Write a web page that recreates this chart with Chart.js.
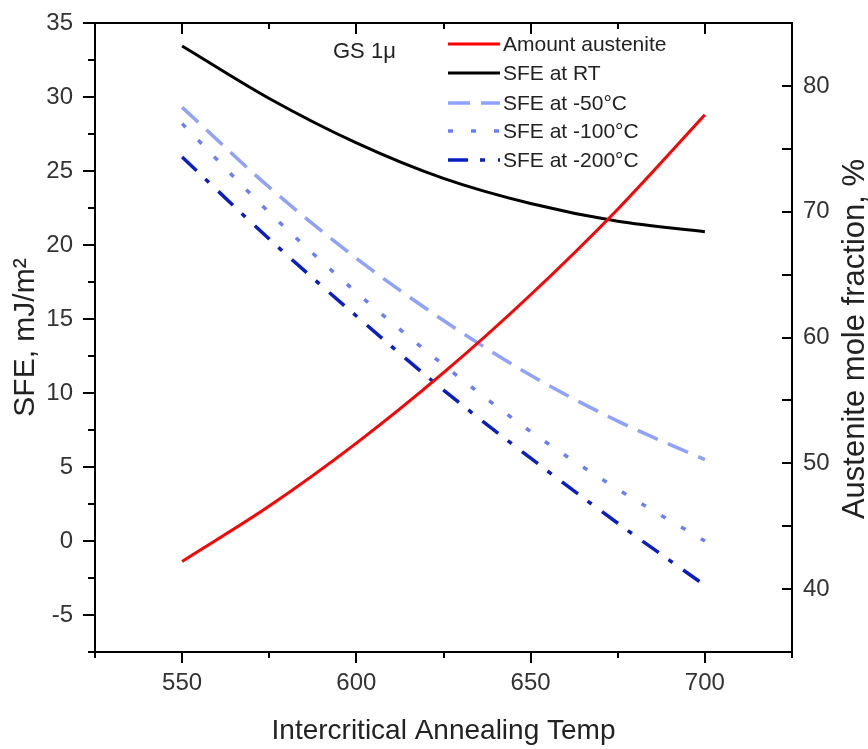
<!DOCTYPE html>
<html>
<head>
<meta charset="utf-8">
<script src="https://cdn.jsdelivr.net/npm/chart.js@4.4.1/dist/chart.umd.min.js"></script>
<style>
  html, body { margin: 0; padding: 0; background: #fff; }
  canvas { display: block; }
</style>
</head>
<body>
<canvas id="c" width="868" height="749"></canvas>
<script>
// ---- data ----
const temps = [550, 575, 600, 625, 650, 675, 700];
const austenite = [42.2, 46.6, 51.6, 57.2, 63.4, 70.2, 77.7];
const sfeRT = [33.45, 29.9, 26.9, 24.5, 22.8, 21.6, 20.9];
const sfeM50 = [29.3, 23.9, 19.1, 14.9, 11.2, 8.1, 5.5];
const sfeM100 = [28.2, 22.2, 16.8, 11.9, 7.4, 3.5, 0.0];
const sfeM200 = [25.95, 20.4, 15.2, 10.2, 5.6, 1.2, -3.0];

const xTicks = [550, 600, 650, 700];
const xMinor = [525, 575, 625, 675, 725];
const yTicks = [-5, 0, 5, 10, 15, 20, 25, 30, 35];
const yMinor = [-7.5, -2.5, 2.5, 7.5, 12.5, 17.5, 22.5, 27.5, 32.5];
const y1Ticks = [40, 50, 60, 70, 80];
const y1Minor = [35, 45, 55, 65, 75, 85];

const seriesLabels = ['Amount austenite', 'SFE at RT', 'SFE at -50°C', 'SFE at -100°C', 'SFE at -200°C'];
const annotationText = 'GS 1μ';
const xTitle = 'Intercritical Annealing Temp';
const yTitle = 'SFE, mJ/m²';
const y1Title = 'Austenite mole fraction, %';

const pts = arr => temps.map((t, i) => ({ x: t, y: arr[i] }));

const TEXT_FONT = '"Liberation Sans", Arial, sans-serif';

const decorPlugin = {
  id: 'decor',
  afterDraw(chart) {
    const { ctx, chartArea: a, scales } = chart;
    const sx = scales.x, sy = scales.y, sy1 = scales.y1;
    ctx.save();
    // frame
    ctx.strokeStyle = '#000';
    ctx.lineWidth = 2;
    ctx.setLineDash([]);
    ctx.strokeRect(a.left, a.top, a.right - a.left, a.bottom - a.top);
    ctx.beginPath();
    // x ticks: bottom outward, top inward
    xTicks.forEach(v => {
      const p = Math.round(sx.getPixelForValue(v));
      ctx.moveTo(p, a.bottom); ctx.lineTo(p, a.bottom + 11);
      ctx.moveTo(p, a.top); ctx.lineTo(p, a.top + 11);
    });
    xMinor.forEach(v => {
      const p = Math.round(sx.getPixelForValue(v));
      ctx.moveTo(p, a.bottom); ctx.lineTo(p, a.bottom + 6);
      ctx.moveTo(p, a.top); ctx.lineTo(p, a.top + 6);
    });
    // left ticks outward
    yTicks.forEach(v => {
      const p = Math.round(sy.getPixelForValue(v));
      ctx.moveTo(a.left, p); ctx.lineTo(a.left - 12, p);
    });
    yMinor.forEach(v => {
      const p = Math.round(sy.getPixelForValue(v));
      ctx.moveTo(a.left, p); ctx.lineTo(a.left - 7, p);
    });
    // right ticks inward
    y1Ticks.forEach(v => {
      const p = Math.round(sy1.getPixelForValue(v));
      ctx.moveTo(a.right, p); ctx.lineTo(a.right - 10, p);
    });
    y1Minor.forEach(v => {
      const p = Math.round(sy1.getPixelForValue(v));
      ctx.moveTo(a.right, p); ctx.lineTo(a.right - 10, p);
    });
    ctx.stroke();

    // right axis title (reads bottom-to-top)
    ctx.fillStyle = '#222';
    ctx.font = '31px ' + TEXT_FONT;
    ctx.textAlign = 'center';
    ctx.textBaseline = 'middle';
    ctx.save();
    ctx.translate(855, 339);
    ctx.rotate(-Math.PI / 2);
    ctx.fillText(y1Title, 0, 0);
    ctx.restore();

    // annotation
    ctx.font = '22px ' + TEXT_FONT;
    ctx.textAlign = 'left';
    ctx.fillText(annotationText, 333, 52);

    // legend
    const rowsY = [44, 73, 103, 131, 160];
    ctx.font = '21px ' + TEXT_FONT;
    chart.data.datasets.forEach((ds, i) => {
      const yy = rowsY[i];
      ctx.save();
      ctx.strokeStyle = ds.borderColor;
      ctx.lineWidth = ds.borderWidth;
      ctx.setLineDash(ds.borderDash || []);
      ctx.beginPath();
      ctx.moveTo(448, yy);
      ctx.lineTo(500, yy);
      ctx.stroke();
      ctx.restore();
      ctx.fillStyle = '#222';
      ctx.textAlign = 'left';
      ctx.textBaseline = 'middle';
      ctx.fillText(ds.label, 503, yy + 1);
    });
    ctx.restore();
  }
};

const tickFont = { family: TEXT_FONT, size: 24 };
const noVPad = (w) => s => { s.width = w; s.paddingTop = 0; s.paddingBottom = 0; };

new Chart(document.getElementById('c'), {
  type: 'line',
  data: {
    datasets: [
      { label: seriesLabels[0], data: pts(austenite), yAxisID: 'y1', borderColor: '#ff0000', borderWidth: 3 },
      { label: seriesLabels[1], data: pts(sfeRT), yAxisID: 'y', borderColor: '#000000', borderWidth: 3 },
      { label: seriesLabels[2], data: pts(sfeM50), yAxisID: 'y', borderColor: '#8fa2ff', borderWidth: 3.5, borderDash: [22, 11] },
      { label: seriesLabels[3], data: pts(sfeM100), yAxisID: 'y', borderColor: '#6a7eff', borderWidth: 3.5, borderDash: [5, 18] },
      { label: seriesLabels[4], data: pts(sfeM200), yAxisID: 'y', borderColor: '#0a1ec4', borderWidth: 3.5, borderDash: [20, 12, 5, 13] }
    ]
  },
  options: {
    responsive: false,
    animation: false,
    devicePixelRatio: 1,
    layout: { padding: { top: 23, left: 0, right: 0, bottom: 0 } },
    elements: {
      point: { radius: 0 },
      line: { cubicInterpolationMode: 'monotone', borderCapStyle: 'butt', fill: false }
    },
    plugins: { legend: { display: false }, tooltip: { enabled: false } },
    scales: {
      x: {
        type: 'linear', position: 'bottom', min: 525, max: 725,
        afterBuildTicks: s => { s.ticks = xTicks.map(v => ({ value: v })); },
        afterFit: s => { s.height = 97; s.paddingLeft = 0; s.paddingRight = 0; },
        grid: { display: false, drawTicks: false },
        border: { display: false },
        ticks: { font: tickFont, color: '#333', padding: 17, maxRotation: 0, autoSkip: false },
        title: { display: true, text: xTitle, color: '#222', font: { family: TEXT_FONT, size: 28 }, padding: { top: 0, bottom: 1 } }
      },
      y: {
        type: 'linear', position: 'left', min: -7.5, max: 35,
        afterBuildTicks: s => { s.ticks = yTicks.map(v => ({ value: v })); },
        afterFit: noVPad(95),
        grid: { display: false, drawTicks: false },
        border: { display: false },
        ticks: { font: tickFont, color: '#333', padding: 22, autoSkip: false },
        title: { display: true, text: yTitle, color: '#222', font: { family: TEXT_FONT, size: 30 }, padding: { top: 8, bottom: 0 } }
      },
      y1: {
        type: 'linear', position: 'right', min: 35, max: 85,
        afterBuildTicks: s => { s.ticks = y1Ticks.map(v => ({ value: v })); },
        afterFit: noVPad(76),
        grid: { display: false, drawTicks: false, drawOnChartArea: false },
        border: { display: false },
        ticks: { font: tickFont, color: '#333', padding: 11, autoSkip: false }
      }
    }
  },
  plugins: [decorPlugin]
});
</script>
</body>
</html>
